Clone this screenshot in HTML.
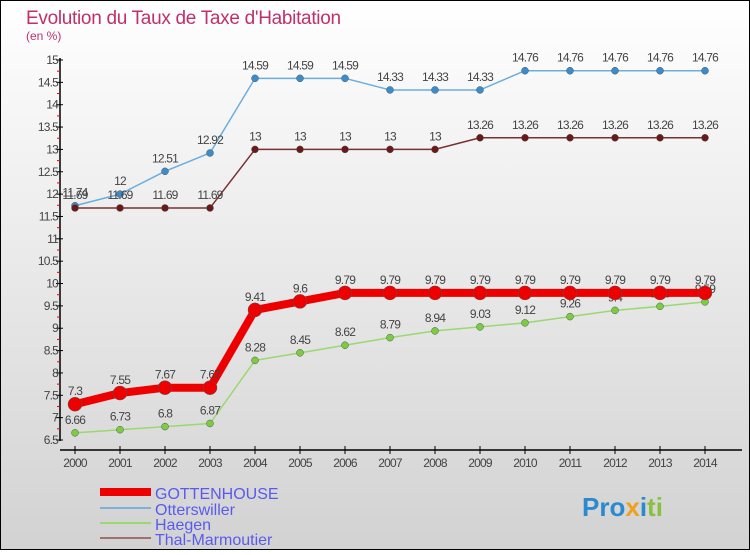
<!DOCTYPE html>
<html><head><meta charset="utf-8"><style>
body{margin:0}
svg text{font-family:"Liberation Sans",sans-serif}
</style></head><body>
<svg id="c" width="750" height="550" xmlns="http://www.w3.org/2000/svg">
<defs><linearGradient id="bg" x1="0" y1="0" x2="0" y2="1"><stop offset="0" stop-color="#ffffff"/><stop offset="1" stop-color="#d2d2d2"/></linearGradient></defs>
<rect x="0.5" y="0.5" width="749" height="549" fill="url(#bg)" stroke="#000"/>
<text x="26" y="24" font-size="19" fill="#c0306a" letter-spacing="-0.3">Evolution du Taux de Taxe d'Habitation</text>
<text x="26" y="40" font-size="12" fill="#c0306a">(en %)</text>
<g id="axes"></g><g id="series"></g>
<g>
<line x1="100" y1="492" x2="151" y2="492" stroke="#e00" stroke-width="8"/>
<text x="155" y="499" font-size="16" fill="#5a5aee">GOTTENHOUSE</text>
<line x1="100" y1="508" x2="151" y2="508" stroke="#7fb1d8" stroke-width="2"/>
<text x="155" y="515" font-size="16" fill="#5a5aee">Otterswiller</text>
<line x1="100" y1="523" x2="151" y2="523" stroke="#9ad870" stroke-width="2"/>
<text x="155" y="530" font-size="16" fill="#5a5aee">Haegen</text>
<line x1="100" y1="538" x2="151" y2="538" stroke="#a07070" stroke-width="2"/>
<text x="155" y="545" font-size="16" fill="#5a5aee">Thal-Marmoutier</text>
</g>
<g>
<text x="582" y="516" font-size="26" font-weight="bold" fill="#f0a020"><tspan fill="#2a8ad0">Pro</tspan><tspan fill="#f0a020">x</tspan><tspan fill="#2a8ad0">i</tspan><tspan fill="#8ac040">ti</tspan></text>
</g>
</svg>
<script>
const years=[2000,2001,2002,2003,2004,2005,2006,2007,2008,2009,2010,2011,2012,2013,2014];
const gottenhouse=[7.3,7.55,7.67,7.67,9.41,9.6,9.79,9.79,9.79,9.79,9.79,9.79,9.79,9.79,9.79];
const otterswiller=[11.74,12,12.51,12.92,14.59,14.59,14.59,14.33,14.33,14.33,14.76,14.76,14.76,14.76,14.76];
const haegen=[6.66,6.73,6.8,6.87,8.28,8.45,8.62,8.79,8.94,9.03,9.12,9.26,9.4,9.49,9.59];
const thal=[11.69,11.69,11.69,11.69,13,13,13,13,13,13.26,13.26,13.26,13.26,13.26,13.26];
const yTicks=[6.5,7,7.5,8,8.5,9,9.5,10,10.5,11,11.5,12,12.5,13,13.5,14,14.5,15];
const NS="http://www.w3.org/2000/svg";
const X=i=>75+i*45, Y=v=>440-(v-6.5)*(380/8.5);
function mk(t,a,p){const e=document.createElementNS(NS,t);for(const k in a)e.setAttribute(k,a[k]);p.appendChild(e);return e;}
const ax=document.getElementById('axes');
let l=mk('line',{x1:60,y1:58,x2:60,y2:441,stroke:'#000','stroke-width':1.5},ax);


l=mk('line',{x1:60,y1:450,x2:742,y2:450,stroke:'#000','stroke-width':1.5},ax);


yTicks.forEach((v,i)=>{
 const y=Y(v);
 mk('line',{x1:56,y1:y,x2:63,y2:y,stroke:'#000'},ax);
 if(i<yTicks.length-1){mk('line',{x1:57,y1:Y(v+0.25),x2:60,y2:Y(v+0.25),stroke:'#e00'},ax);}
 const t=mk('text',{x:58,y:y+4,'font-size':12,fill:'#444','text-anchor':'end','letter-spacing':'-0.8'},ax);
 
 
 t.textContent=v;
});
years.forEach((yr,i)=>{
 mk('line',{x1:X(i),y1:446,x2:X(i),y2:454,stroke:'#000'},ax);
 const t=mk('text',{x:X(i),y:467,'font-size':12,fill:'#444','text-anchor':'middle','letter-spacing':'-0.8'},ax);
 
 
 t.textContent=yr;
});
const sg=document.getElementById('series');
function draw(name,vals,col,dot,w,r){
 const g=mk('g',{},sg);
 
 
 const p=mk('polyline',{points:vals.map((v,i)=>X(i)+','+Y(v)).join(' '),fill:'none',stroke:col,'stroke-width':w,'stroke-linejoin':'round'},g);
 
 
 vals.forEach((v,i)=>{
  const c=mk('circle',{cx:X(i),cy:Y(v),r:r,fill:dot,stroke:'#555','stroke-width':0.5},g);
  
  
  const t=mk('text',{x:X(i),y:Y(v)-9,'font-size':12,fill:'#444','text-anchor':'middle','letter-spacing':'-0.8'},g);
  
  
  t.textContent=v;
 });
}
draw('otterswiller',otterswiller,'#6aaee0','#3a8ccc',1.5,3.5);
draw('thal-marmoutier',thal,'#7a3030','#6a1818',1.5,3.5);
draw('haegen',haegen,'#9ad870','#7acc40',1.5,3.5);
draw('gottenhouse',gottenhouse,'#ee0000','#ee0000',8,7);
</script>
</body></html>
